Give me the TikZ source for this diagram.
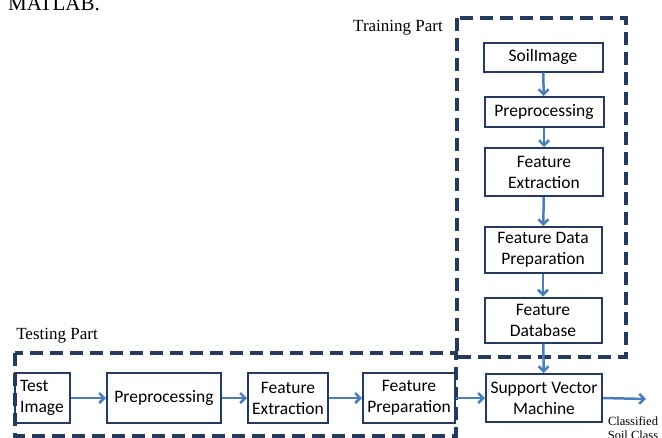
\documentclass[tikz,border=0pt]{standalone}
\usepackage{fontspec}
\setmainfont{Liberation Serif}
\newfontfamily\boxfont{Carlito}
\usetikzlibrary{arrows.meta}
\definecolor{navy}{HTML}{243A5E}
\definecolor{arrowblue}{HTML}{4A7EBB}
\tikzstyle{blk}=[draw=navy,line width=2pt,align=center,inner sep=0pt,font=\boxfont\fontsize{17.5}{21}\selectfont]
\tikzstyle{part}=[draw=navy,line width=3.5pt,dash pattern=on 13pt off 7pt]
\tikzstyle{arr}=[draw=arrowblue,line width=2.5pt,-{Straight Barb[length=5pt,width=10pt]}]
\tikzstyle{lbl}=[inner sep=0pt,font=\fontsize{17}{20}\selectfont]

\begin{document}
\begin{tikzpicture}[x=1pt,y=-1pt]
\useasboundingbox (0,0) rectangle (662,437);
\clip (0,0) rectangle (662,437);
\node[anchor=base west,inner sep=0pt,font=\fontsize{21}{24}\selectfont] (matlab) at (8,10) {MATLAB.};
% dashed parts
\draw[part] (457,18) rectangle (626,357);
\draw[part] (15,353) rectangle (456,436);
\node[lbl] (trainlbl) at (398,28) {Training Part};
\node[lbl] (testlbl) at (57,336) {Testing Part};
% training part
\node[blk,minimum width=119,minimum height=29] (soil) at (543,57) {SoilImage};
\node[blk,minimum width=119,minimum height=30] (pre1) at (544,112) {Preprocessing};
\node[blk,minimum width=118,minimum height=48] (fe1) at (544,172) {Feature\\Extraction};
\node[blk,minimum width=117,minimum height=46] (fdp) at (543,250) {Feature Data\\Preparation};
\node[blk,minimum width=117,minimum height=45] (fdb) at (543,320) {Feature\\Database};
\node[blk,minimum width=116,minimum height=48] (svm) at (544,398) {Support Vector\\Machine};
% testing part
\node[blk,align=left,minimum width=55,minimum height=50] (test) at (42,398) {Test\\Image};
\node[blk,minimum width=114,minimum height=50] (pre2) at (164,398) {Preprocessing};
\node[blk,minimum width=80,minimum height=50] (fe2) at (288,398) {Feature\\Extraction};
\node[blk,minimum width=92,minimum height=50] (fp) at (409,398) {Feature\\Preparation};
\node[inner sep=0pt,align=center,font=\fontsize{12.5}{14}\selectfont] (cls) at (633,428) {Classified\\Soil Class};
\coordinate (out) at (646,399);
% arrows
\draw[arr] (soil) -- (pre1);
\draw[arr] (pre1) -- (fe1);
\draw[arr] (fe1) -- (fdp);
\draw[arr] (fdp) -- (fdb);
\draw[arr] (fdb) -- (svm);
\draw[arr] (test) -- (pre2);
\draw[arr] (pre2) -- (fe2);
\draw[arr] (fe2) -- (fp);
\draw[arr] (fp) -- (svm);
\draw[arr] (svm.east) -- (out);
\end{tikzpicture}
\end{document}
